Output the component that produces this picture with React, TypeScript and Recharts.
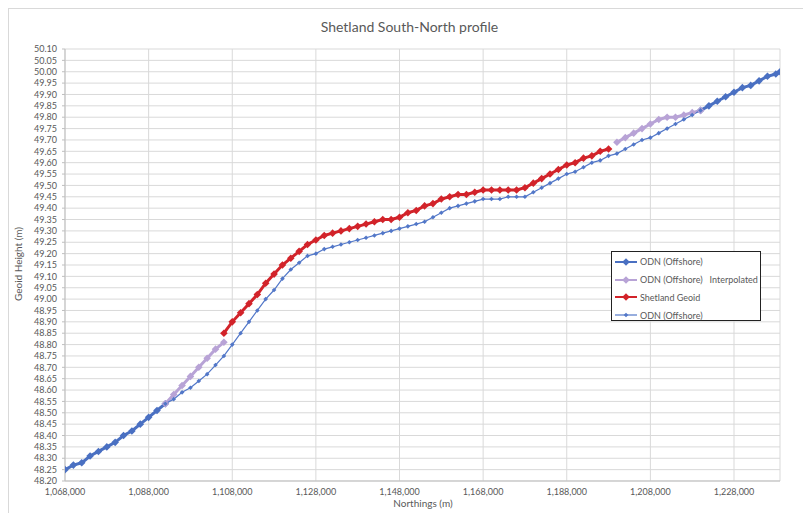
import React from "react";
import { LineChart, Line, XAxis, YAxis, CartesianGrid, Legend } from "recharts";

// northings along the profile (m)
const northings = [
  1068000, 1070000, 1072000, 1074000, 1076000, 1078000, 1080000, 1082000, 1084000, 1086000,
  1088000, 1090000, 1092000, 1094000, 1096000, 1098000, 1100000, 1102000, 1104000, 1106000,
  1108000, 1110000, 1112000, 1114000, 1116000, 1118000, 1120000, 1122000, 1124000, 1126000,
  1128000, 1130000, 1132000, 1134000, 1136000, 1138000, 1140000, 1142000, 1144000, 1146000,
  1148000, 1150000, 1152000, 1154000, 1156000, 1158000, 1160000, 1162000, 1164000, 1166000,
  1168000, 1170000, 1172000, 1174000, 1176000, 1178000, 1180000, 1182000, 1184000, 1186000,
  1188000, 1190000, 1192000, 1194000, 1196000, 1198000, 1200000, 1202000, 1204000, 1206000,
  1208000, 1210000, 1212000, 1214000, 1216000, 1218000, 1220000, 1222000, 1224000, 1226000,
  1228000, 1230000, 1232000, 1234000, 1236000, 1238000, 1239000,
];

// ODN (Offshore), south end from 1,068,000 and north end from 1,220,000
const odnSouth = [48.25, 48.27, 48.28, 48.31, 48.33, 48.35, 48.37, 48.4, 48.42, 48.45, 48.48, 48.51, 48.54];
const odnNorth = [49.83, 49.85, 49.87, 49.89, 49.91, 49.93, 49.94, 49.96, 49.98, 49.99, 50.0];

// ODN (Offshore) Interpolated, from 1,092,000 and from 1,200,000
const interpSouth = [48.54, 48.58, 48.62, 48.66, 48.7, 48.74, 48.78, 48.81];
const interpNorth = [49.69, 49.71, 49.73, 49.75, 49.77, 49.79, 49.8, 49.8, 49.81, 49.82, 49.83];

// Shetland Geoid, from 1,106,000
const geoid = [
  48.85, 48.9, 48.94, 48.98, 49.02, 49.07, 49.11, 49.15, 49.18, 49.21,
  49.24, 49.26, 49.28, 49.29, 49.3, 49.31, 49.32, 49.33, 49.34, 49.35,
  49.35, 49.36, 49.38, 49.39, 49.41, 49.42, 49.44, 49.45, 49.46, 49.46,
  49.47, 49.48, 49.48, 49.48, 49.48, 49.48, 49.49, 49.51, 49.53, 49.55,
  49.57, 49.59, 49.6, 49.62, 49.63, 49.65, 49.66,
];

// ODN (Offshore) thin profile, from 1,092,000
const odnProfile = [
  48.54, 48.56, 48.59, 48.61, 48.64, 48.67, 48.71, 48.75, 48.8, 48.85,
  48.9, 48.95, 49.0, 49.04, 49.09, 49.13, 49.16, 49.19, 49.2, 49.22,
  49.23, 49.24, 49.25, 49.26, 49.27, 49.28, 49.29, 49.3, 49.31, 49.32,
  49.33, 49.34, 49.36, 49.38, 49.4, 49.41, 49.42, 49.43, 49.44, 49.44,
  49.44, 49.45, 49.45, 49.45, 49.47, 49.49, 49.51, 49.53, 49.55, 49.56,
  49.58, 49.6, 49.61, 49.63, 49.64, 49.66, 49.68, 49.7, 49.71, 49.73,
  49.75, 49.77, 49.79, 49.81, 49.83,
];

const xTicks = [1068000, 1088000, 1108000, 1128000, 1148000, 1168000, 1188000, 1208000, 1228000];
const yTicks = [
  48.2, 48.25, 48.3, 48.35, 48.4, 48.45, 48.5, 48.55, 48.6, 48.65, 48.7, 48.75, 48.8,
  48.85, 48.9, 48.95, 49.0, 49.05, 49.1, 49.15, 49.2, 49.25, 49.3, 49.35, 49.4, 49.45,
  49.5, 49.55, 49.6, 49.65, 49.7, 49.75, 49.8, 49.85, 49.9, 49.95, 50.0, 50.05, 50.1,
];

type Segment = { start: number; values: number[] };

function column(segments: Segment[]) {
  const out: (number | null)[] = northings.map(() => null);
  segments.forEach((s) => {
    const i = northings.indexOf(s.start);
    s.values.forEach((v, k) => {
      out[i + k] = v;
    });
  });
  return out;
}

const odnCol = column([
  { start: 1068000, values: odnSouth },
  { start: 1220000, values: odnNorth },
]);
const interpCol = column([
  { start: 1092000, values: interpSouth },
  { start: 1200000, values: interpNorth },
]);
const geoidCol = column([{ start: 1106000, values: geoid }]);
const profileCol = column([{ start: 1092000, values: odnProfile }]);

const chartData = northings.map((n, i) => ({
  northing: n,
  odn: odnCol[i],
  interp: interpCol[i],
  geoid: geoidCol[i],
  profile: profileCol[i],
}));

const series = [
  { key: "odn", name: "ODN (Offshore)", color: "#4A70C2", width: 3, size: 3.8 },
  { key: "interp", name: "ODN (Offshore)   Interpolated", color: "#B8A3D6", width: 3, size: 3.8 },
  { key: "geoid", name: "Shetland Geoid", color: "#D2232A", width: 3, size: 3.8 },
  { key: "profile", name: "ODN (Offshore)", color: "#5277C8", width: 1.2, size: 2.3 },
];

const FONT = "Lato, 'Open Sans', sans-serif";
const TEXT = "#595959";

const diamond = (color: string, s: number) => (props: any) => {
  const { cx, cy, value, index } = props;
  if (cx == null || cy == null || value == null) return <g key={`e-${index}`} />;
  return (
    <path
      key={`d-${index}`}
      d={`M${cx},${cy - s}L${cx + s},${cy}L${cx},${cy + s}L${cx - s},${cy}Z`}
      fill={color}
    />
  );
};

function LegendBox() {
  return (
    <div
      style={{
        width: 150,
        height: 70,
        border: "1px solid #222",
        background: "#fff",
        paddingTop: 1,
        boxSizing: "border-box",
        fontFamily: FONT,
        fontSize: 9,
        color: TEXT,
      }}
    >
      {series.map((s) => (
        <div key={s.key + s.name} style={{ display: "flex", alignItems: "center", height: 17.8 }}>
          <svg width={26} height={10} style={{ marginLeft: 1 }}>
            <line x1={2} y1={5} x2={24} y2={5} stroke={s.color} strokeWidth={s.width > 2 ? 2 : 1.2} />
            <path
              d={`M13,${5 - s.size}L${13 + s.size},5L13,${5 + s.size}L${13 - s.size},5Z`}
              fill={s.color}
            />
          </svg>
          <span style={{ whiteSpace: "pre", marginLeft: 1 }}>{s.name}</span>
        </div>
      ))}
    </div>
  );
}

export default function App() {
  return (
    <div style={{ position: "relative", width: 811, height: 521, margin: -8, background: "#fff" }}>
      <div
        style={{
          position: "absolute",
          left: 8,
          top: 8,
          width: 797,
          height: 509,
          border: "1px solid #d9d9d9",
        }}
      />
      <div
        style={{
          position: "absolute",
          left: 0,
          width: 811,
          top: 18,
          textAlign: "center",
          fontFamily: FONT,
          fontSize: 14,
          color: TEXT,
          paddingLeft: 4,
        }}
      >
        Shetland South-North profile
      </div>
      <div
        style={{
          position: "absolute",
          left: 18,
          top: 264,
          transform: "translate(-50%, -50%) rotate(-90deg)",
          whiteSpace: "nowrap",
          fontFamily: FONT,
          fontSize: 10,
          color: TEXT,
        }}
      >
        Geoid Height (m)
      </div>
      <div
        style={{
          position: "absolute",
          left: 423,
          top: 503,
          transform: "translate(-50%, -50%)",
          whiteSpace: "nowrap",
          fontFamily: FONT,
          fontSize: 10,
          color: TEXT,
        }}
      >
        Northings (m)
      </div>
      <div style={{ position: "absolute", left: 0, top: 0 }}>
        <LineChart
          width={811}
          height={521}
          data={chartData}
          margin={{ top: 49, right: 31, bottom: 10, left: 15 }}
        >
          <CartesianGrid stroke="#d9d9d9" strokeWidth={1} />
          <XAxis
            dataKey="northing"
            type="number"
            domain={[1068000, 1239000]}
            ticks={xTicks}
            allowDataOverflow
            height={30}
            tickSize={0}
            tickMargin={8}
            axisLine={{ stroke: "#bfbfbf" }}
            tickFormatter={(v: number) => v.toLocaleString("en-US")}
            tick={{ fill: TEXT, fontSize: 9, fontFamily: FONT }}
          />
          <YAxis
            type="number"
            domain={[48.2, 50.1]}
            ticks={yTicks}
            allowDataOverflow
            width={50}
            tickSize={3}
            tickMargin={5}
            interval={0}
            axisLine={{ stroke: "#bfbfbf" }}
            tickLine={{ stroke: "#bfbfbf" }}
            tickFormatter={(v: number) => v.toFixed(2)}
            tick={{ fill: TEXT, fontSize: 9, fontFamily: FONT }}
          />
          <Legend
            content={() => <LegendBox />}
            layout="horizontal"
            verticalAlign="middle"
            align="center"
            wrapperStyle={{ position: "absolute", left: 611, top: 251, width: 150, height: 70 }}
          />
          {series.map((s) => (
            <Line
              key={s.key}
              dataKey={s.key}
              name={s.name}
              type="linear"
              stroke={s.color}
              strokeWidth={s.width}
              dot={diamond(s.color, s.size)}
              activeDot={false}
              connectNulls={false}
              isAnimationActive={false}
            />
          ))}
        </LineChart>
      </div>
    </div>
  );
}
